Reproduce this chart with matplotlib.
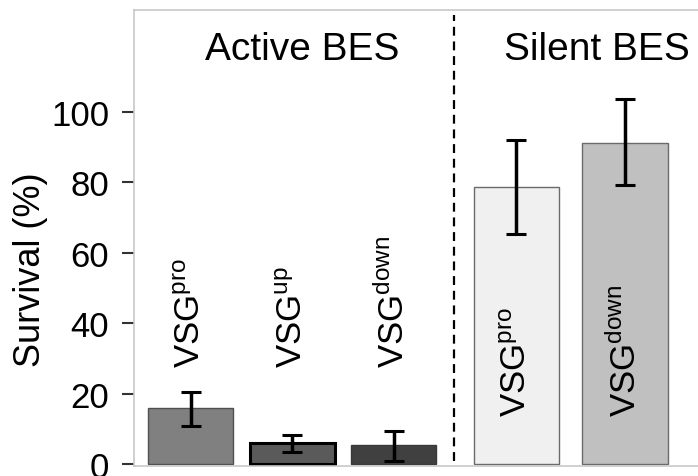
import matplotlib
matplotlib.use('Agg')
import matplotlib.pyplot as plt

plt.rcParams['font.family'] = ['Liberation Sans', 'DejaVu Sans']
plt.rcParams['mathtext.fontset'] = 'custom'
plt.rcParams['mathtext.rm'] = 'Liberation Sans'

# data
labels = ['pro', 'up', 'down', 'pro', 'down']
survival = [15.8, 6.0, 5.4, 78.6, 91.2]
err_low = [10.7, 3.4, 0.9, 65.3, 79.2]
err_high = [20.4, 8.2, 9.3, 92.0, 103.7]
groups = ['Active BES', 'Silent BES']

# layout
xpos = [0, 1, 2, 3.21, 4.28]
faces = ['#808080', '#5a5a5a', '#404040', '#f0f0f0', '#c0c0c0']
edges = ['#505050', '#000000', '#3a3a3a', '#6a6a6a', '#6a6a6a']
edge_w = [1.0, 2.2, 1.0, 1.0, 1.0]
label_y = [27.5, 27.5, 27.5, 13.6, 13.6]

fig = plt.figure(figsize=(6.98, 4.77), dpi=100)
ax = fig.add_axes([0.192, 0.022, 0.808, 0.955])

ax.bar(xpos, survival, width=0.84, color=faces, edgecolor=edges,
       linewidth=edge_w, zorder=2)
yerr = [[s - lo for s, lo in zip(survival, err_low)],
        [hi - s for s, hi in zip(survival, err_high)]]
ax.errorbar(xpos, survival, yerr=yerr, fmt='none', ecolor='black',
            elinewidth=2.5, capsize=7, capthick=2.2, zorder=3)

for x, lab, ly in zip(xpos, labels, label_y):
    ax.text(x, ly, r'$\mathregular{VSG^{%s}}$' % lab, rotation=90,
            ha='center', va='bottom', fontsize=25, zorder=4)

ax.axvline(2.59, color='black', linestyle=(0, (4, 2.6)), linewidth=1.6,
           ymin=0.01, ymax=0.99)
ax.text(1.10, 115, groups[0], ha='center', va='baseline', fontsize=28)
ax.text(4.0, 115, groups[1], ha='center', va='baseline', fontsize=28)

ax.set_xlim(-0.56, 5.0)
ax.set_ylim(-0.4, 129)
ax.set_yticks([0, 20, 40, 60, 80, 100])
ax.set_xticks([])
ax.set_ylabel('Survival (%)', fontsize=26)
ax.yaxis.set_label_coords(-0.152, 0.431)
ax.tick_params(axis='y', labelsize=25, length=9, width=1.5, color='#333333',
               pad=9)
for side in ['left', 'top', 'bottom']:
    ax.spines[side].set_color('#c8c8c8')
    ax.spines[side].set_linewidth(1.2)
ax.spines['right'].set_visible(False)

fig.savefig('out.png', dpi=100)
